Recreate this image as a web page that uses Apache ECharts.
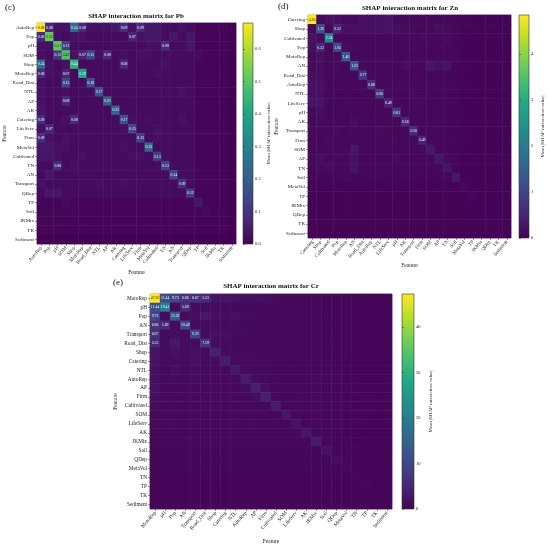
<!DOCTYPE html>
<html><head><meta charset="utf-8">
<script src="https://cdn.jsdelivr.net/npm/echarts@6/dist/echarts.min.js"></script>
<style>html,body{margin:0;padding:0;background:#fff}#c{width:550px;height:547px}</style>
</head><body><div id="c"></div>
<script>
// ---------- DATA ----------
const pbFeatures = ['AutoRep','Pop','pH','SOM','Shop','MotoRep','Road_Dist','NTL','AP','AK','Catering','LifeServ','Firm','MetaVol','Cultivated','TN','AN','Transport','QDep','TP','Soil','JKMix','TK','Sediment'];
const znFeatures = ['Catering','Shop','Cultivated','Pop','MotoRep','AN','Road_Dist','AutoRep','NTL','LifeServ','pH','AK','Transport','Firm','SOM','AP','TN','Soil','MetaVol','TP','JKMix','QDep','TK','Sediment'];
const crFeatures = ['MotoRep','pH','Pop','AN','Transport','Road_Dist','Shop','Catering','NTL','AutoRep','AP','Firm','Cultivated','SOM','LifeServ','AK','JKMix','Soil','QDep','MetaVol','TN','TP','TK','Sediment'];

// lower triangles (row i: columns 0..i, last = diagonal)
const pbLower = [
[0.68],
[0.08,0.52],
[0.03,0.03,0.51],
[0.03,0.02,0.12,0.49],
[0.24,0.03,0.02,0.03,0.44],
[0.08,0.03,0.02,0.07,0.02,0.39],
[0.03,0.02,0.02,0.15,0.02,0.02,0.16],
[0.03,0.02,0.02,0.03,0.02,0.02,0.02,0.17],
[0.03,0.02,0.02,0.08,0.02,0.02,0.02,0.02,0.21],
[0.04,0.02,0.02,0.02,0.02,0.02,0.02,0.02,0.02,0.22],
[0.09,0.02,0.02,0.03,0.08,0.02,0.02,0.02,0.02,0.02,0.17],
[0.03,0.07,0.02,0.02,0.02,0.02,0.02,0.02,0.02,0.02,0.03,0.15],
[0.09,0.03,0.02,0.03,0.02,0.02,0.02,0.02,0.02,0.02,0.02,0.02,0.13],
[0.04,0.04,0.03,0.03,0.02,0.02,0.02,0.02,0.02,0.02,0.03,0.02,0.02,0.23],
[0.04,0.04,0.03,0.02,0.02,0.03,0.02,0.02,0.02,0.02,0.02,0.03,0.03,0.02,0.13],
[0.02,0.02,0.08,0.02,0.03,0.02,0.02,0.02,0.02,0.02,0.02,0.02,0.02,0.02,0.02,0.13],
[0.02,0.04,0.02,0.02,0.02,0.02,0.02,0.02,0.02,0.02,0.02,0.02,0.02,0.02,0.02,0.02,0.14],
[0.03,0.02,0.02,0.02,0.02,0.02,0.02,0.03,0.02,0.02,0.03,0.02,0.02,0.02,0.02,0.02,0.02,0.09],
[0.02,0.04,0.04,0.02,0.02,0.02,0.02,0.02,0.02,0.02,0.02,0.02,0.02,0.02,0.02,0.02,0.02,0.02,0.12],
[0.01,0.01,0.01,0.02,0.01,0.01,0.01,0.01,0.01,0.01,0.01,0.01,0.01,0.01,0.01,0.01,0.01,0.01,0.01,0.04],
[0.01,0.01,0.01,0.01,0.01,0.01,0.01,0.01,0.01,0.01,0.01,0.01,0.01,0.01,0.01,0.01,0.01,0.01,0.01,0.01,0.02],
[0.01,0.01,0.01,0.01,0.01,0.01,0.01,0.01,0.01,0.01,0.01,0.01,0.01,0.01,0.01,0.01,0.01,0.01,0.01,0.01,0.01,0.01],
[0.01,0.01,0.01,0.01,0.01,0.01,0.01,0.01,0.01,0.01,0.01,0.01,0.01,0.01,0.01,0.01,0.01,0.01,0.01,0.01,0.01,0.01,0.01],
[0.00,0.00,0.00,0.00,0.00,0.00,0.00,0.00,0.00,0.00,0.00,0.00,0.00,0.00,0.00,0.00,0.00,0.00,0.00,0.00,0.00,0.00,0.00,0.00]
];
const znLower = [
[4.85],
[0.12,1.20],
[0.22,0.10,2.24],
[0.20,0.52,0.10,1.05],
[0.12,0.22,0.10,0.15,1.40],
[0.12,0.20,0.10,0.15,0.10,1.23],
[0.20,0.20,0.10,0.12,0.10,0.10,0.77],
[0.22,0.20,0.10,0.10,0.10,0.10,0.10,0.68],
[0.20,0.20,0.10,0.12,0.10,0.10,0.10,0.10,0.85],
[0.25,0.25,0.10,0.10,0.10,0.10,0.10,0.10,0.10,0.49],
[0.12,0.18,0.10,0.10,0.10,0.10,0.10,0.10,0.10,0.10,0.81],
[0.10,0.12,0.10,0.10,0.10,0.18,0.10,0.10,0.10,0.10,0.10,0.56],
[0.12,0.12,0.10,0.15,0.10,0.12,0.10,0.10,0.15,0.10,0.10,0.10,0.56],
[0.10,0.10,0.15,0.10,0.10,0.10,0.10,0.10,0.10,0.12,0.10,0.10,0.10,0.49],
[0.10,0.10,0.12,0.10,0.10,0.30,0.10,0.10,0.10,0.10,0.10,0.10,0.10,0.10,0.32],
[0.10,0.18,0.10,0.12,0.10,0.20,0.10,0.10,0.10,0.10,0.12,0.10,0.10,0.10,0.10,0.30],
[0.10,0.12,0.15,0.10,0.10,0.26,0.10,0.10,0.10,0.10,0.10,0.10,0.10,0.10,0.10,0.10,0.28],
[0.08,0.08,0.08,0.08,0.12,0.08,0.08,0.08,0.08,0.08,0.08,0.08,0.08,0.08,0.08,0.08,0.08,0.32],
[0.06,0.06,0.06,0.06,0.06,0.06,0.06,0.06,0.06,0.06,0.06,0.06,0.06,0.06,0.06,0.06,0.06,0.06,0.10],
[0.06,0.06,0.06,0.06,0.06,0.06,0.06,0.06,0.06,0.06,0.06,0.06,0.06,0.06,0.06,0.06,0.06,0.06,0.06,0.08],
[0.05,0.05,0.05,0.05,0.05,0.05,0.05,0.05,0.05,0.05,0.05,0.05,0.05,0.05,0.05,0.05,0.05,0.05,0.05,0.05,0.06],
[0.05,0.05,0.05,0.05,0.05,0.05,0.05,0.05,0.05,0.05,0.05,0.05,0.05,0.05,0.05,0.05,0.05,0.05,0.05,0.05,0.05,0.06],
[0.04,0.04,0.04,0.04,0.04,0.04,0.04,0.04,0.04,0.04,0.04,0.04,0.04,0.04,0.04,0.04,0.04,0.04,0.04,0.04,0.04,0.04,0.04],
[0.03,0.03,0.03,0.03,0.03,0.03,0.03,0.03,0.03,0.03,0.03,0.03,0.03,0.03,0.03,0.03,0.03,0.03,0.03,0.03,0.03,0.03,0.03,0.03]
];
const crLower = [
[47.20],
[11.44,19.41],
[9.73,1.5,13.22],
[6.86,5.69,1.5,10.49],
[6.67,1.5,1.8,1.5,9.25],
[5.53,1.5,3.0,1.5,1.5,7.19],
[2.5,1.5,2.0,1.5,2.0,1.5,4.0],
[2.5,1.5,1.5,1.5,2.0,1.5,1.5,3.6],
[2.2,1.2,2.0,1.2,1.5,1.2,1.2,1.2,3.0],
[2.0,1.2,1.5,1.2,1.5,1.2,1.2,1.2,1.2,3.4],
[2.0,1.2,1.2,1.2,1.2,1.2,1.2,1.2,1.2,1.5,3.8],
[1.8,1.2,1.2,1.2,1.2,1.2,1.2,1.2,1.2,1.2,1.8,4.0],
[1.5,1.0,1.0,1.0,1.0,1.0,1.0,1.0,1.0,1.0,1.0,1.0,3.4],
[1.2,1.0,1.0,1.0,1.0,1.0,1.0,1.0,1.0,1.0,1.0,1.0,1.0,2.8],
[1.2,1.0,1.0,1.0,1.0,1.0,1.0,1.0,1.0,1.0,1.0,1.0,1.0,1.0,2.6],
[1.0,1.0,1.0,1.0,1.0,1.0,1.0,1.0,1.0,1.0,1.0,1.0,1.0,1.0,1.0,2.8],
[1.0,1.0,1.0,1.0,1.0,1.0,1.0,1.0,1.0,1.0,1.0,1.0,1.0,1.0,1.0,1.0,3.4],
[0.8,0.8,0.8,0.8,0.8,0.8,0.8,0.8,0.8,0.8,0.8,0.8,0.8,0.8,0.8,0.8,0.8,2.2],
[0.8,0.8,0.8,0.8,0.8,0.8,0.8,0.8,0.8,0.8,0.8,0.8,0.8,0.8,0.8,0.8,0.8,0.8,1.6],
[0.8,0.8,0.8,0.8,0.8,0.8,0.8,0.8,0.8,0.8,0.8,0.8,0.8,0.8,0.8,0.8,0.8,0.8,0.8,1.2],
[0.7,0.7,0.7,0.7,0.7,0.7,0.7,0.7,0.7,0.7,0.7,0.7,0.7,0.7,0.7,0.7,0.7,0.7,0.7,0.7,1.0],
[0.7,0.7,0.7,0.7,0.7,0.7,0.7,0.7,0.7,0.7,0.7,0.7,0.7,0.7,0.7,0.7,0.7,0.7,0.7,0.7,0.7,0.9],
[0.6,0.6,0.6,0.6,0.6,0.6,0.6,0.6,0.6,0.6,0.6,0.6,0.6,0.6,0.6,0.6,0.6,0.6,0.6,0.6,0.6,0.6,0.8],
[0.6,0.6,0.6,0.6,0.6,0.6,0.6,0.6,0.6,0.6,0.6,0.6,0.6,0.6,0.6,0.6,0.6,0.6,0.6,0.6,0.6,0.6,0.6,0.7]
];
const pbTicks = [0.0,0.1,0.2,0.3,0.4,0.5,0.6];
const znTicks = [0,1,2,3,4];
const crTicks = [0,10,20,30,40];
const pbLabelMin = 0.06, znLabelMin = 0.45, crLabelMin = 5;
const titles = ['SHAP interaction matrix for Pb','SHAP interaction matrix for Zn','SHAP interaction matrix for Cr'];
const cbarName = 'Mean |SHAP interaction value|';

// ---------- BUILD ----------
const viridis = ['#440154','#482475','#414487','#355f8d','#2a788e','#21918c','#22a884','#44bf70','#7ad151','#bddf26','#fde725'];
const FONT = 'Liberation Serif';
function full(L){const n=L.length;const M=[];for(let i=0;i<n;i++){M.push([]);for(let j=0;j<n;j++){M[i].push(j<=i?L[i][j]:L[j][i]);}}return M;}
function maxOf(M){let m=0;M.forEach(r=>r.forEach(v=>{if(v>m)m=v;}));return m;}
function items(M,thr,mx){const d=[];M.forEach((r,i)=>r.forEach((v,j)=>{d.push({value:[j,i,v],label:{show:v>=thr,color:(v/mx>0.7)?'#1a1a1a':'#ffffff'}});}));return d;}

const panels = [
 {f:pbFeatures,M:full(pbLower),thr:pbLabelMin,ticks:pbTicks,dec:1,g:{left:37,top:23,width:199,height:221},cb:{left:243,top:23,width:10,height:221},ygap:29,xgap:26,cbgap:13,fs:5},
 {f:znFeatures,M:full(znLower),thr:znLabelMin,ticks:znTicks,dec:0,g:{left:308,top:15,width:203,height:223},cb:{left:519,top:15,width:10,height:223},ygap:28,xgap:25,cbgap:11,fs:5},
 {f:crFeatures,M:full(crLower),thr:crLabelMin,ticks:crTicks,dec:0,g:{left:150,top:294,width:242,height:215},cb:{left:402,top:294,width:12,height:215},ygap:31,xgap:30,cbgap:14,fs:5.3}
];

const grid=[],xAxis=[],yAxis=[],series=[],visualMap=[];
panels.forEach((p,k)=>{
  const mx=maxOf(p.M);
  grid.push(Object.assign({show:true,borderColor:'#666',borderWidth:0.6,backgroundColor:'transparent'},p.g));
  xAxis.push({gridIndex:2*k,type:'category',data:p.f,name:'Feature',nameLocation:'middle',nameGap:p.xgap,
    nameTextStyle:{fontFamily:FONT,fontSize:5.5,color:'#222'},
    axisLine:{show:false},axisTick:{show:true,alignWithLabel:true,length:2,lineStyle:{color:'#333',width:0.5}},
    axisLabel:{interval:0,rotate:50,fontSize:p.fs,fontFamily:FONT,color:'#222',margin:3},splitLine:{show:false}});
  yAxis.push({gridIndex:2*k,type:'category',data:p.f,inverse:true,name:'Feature',nameLocation:'middle',nameGap:p.ygap,nameRotate:90,
    nameTextStyle:{fontFamily:FONT,fontSize:5.5,color:'#222'},
    axisLine:{show:false},axisTick:{show:true,alignWithLabel:true,length:2,lineStyle:{color:'#333',width:0.5}},
    axisLabel:{interval:0,fontSize:p.fs,fontFamily:FONT,color:'#222',margin:3},splitLine:{show:false}});
  // colorbar grid
  grid.push(Object.assign({show:true,borderColor:'#333',borderWidth:0.6,
    backgroundColor:{type:'linear',x:0,y:1,x2:0,y2:0,colorStops:viridis.map((c,i)=>({offset:i/(viridis.length-1),color:c}))}},p.cb));
  xAxis.push({gridIndex:2*k+1,type:'value',show:false,min:0,max:1});
  yAxis.push({gridIndex:2*k+1,type:'value',position:'right',min:0,max:mx,
    name:cbarName,nameLocation:'middle',nameRotate:90,nameGap:p.cbgap,nameTextStyle:{fontFamily:FONT,fontSize:5,color:'#222'},
    axisLine:{show:false},splitLine:{show:false},
    axisTick:{show:true,length:2,customValues:p.ticks,lineStyle:{color:'#333',width:0.5}},
    axisLabel:{customValues:p.ticks,fontSize:4.5,fontFamily:FONT,color:'#222',margin:2,formatter:v=>Number(v).toFixed(p.dec)}});
  series.push({type:'heatmap',xAxisIndex:2*k,yAxisIndex:2*k,data:items(p.M,p.thr,mx),
    label:{fontSize:3.8,fontFamily:FONT,formatter:q=>q.value[2].toFixed(2)},itemStyle:{borderWidth:0},emphasis:{disabled:true},progressive:0});
  visualMap.push({type:'continuous',seriesIndex:k,min:0,max:mx,show:false,dimension:2,inRange:{color:viridis}});
});

const txt=(x,y,s,size,bold,align)=>({type:'text',x:x,y:y,style:{text:s,font:(bold?'bold ':'')+size+'px "'+FONT+'"',fill:'#111',textAlign:align||'center',textVerticalAlign:'middle'}});
const graphic=[
  txt(5,8,'(c)',9,false,'left'), txt(278,7,'(d)',9,false,'left'), txt(113,283,'(e)',9,false,'left'),
  txt(136,16,titles[0],7,true), txt(410,8,titles[1],7,true), txt(271,286,titles[2],7,true)
];

const chart=echarts.init(document.getElementById('c'),null,{renderer:'canvas'});
chart.setOption({animation:false,backgroundColor:'#fff',grid,xAxis,yAxis,series,visualMap,graphic});
</script></body></html>
